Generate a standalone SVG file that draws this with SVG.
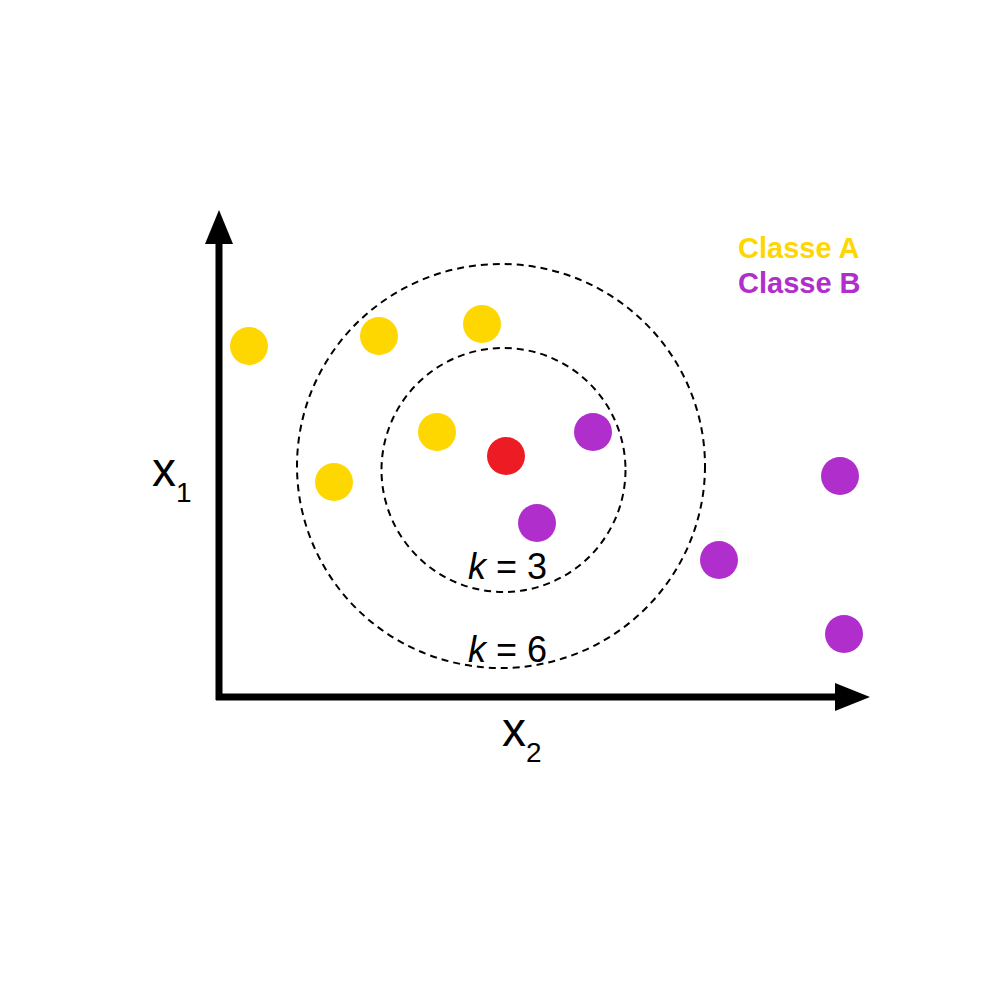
<svg xmlns="http://www.w3.org/2000/svg" width="1000" height="1000" viewBox="0 0 1000 1000">
<style>
.a{fill:#FFD700}.b{fill:#B02ECC}.q{fill:#ED1C24}
.ring{fill:none;stroke:#000;stroke-width:2;stroke-dasharray:7 5}
.t{font-family:"Liberation Sans",Arial,sans-serif;fill:#000}
.leg{font-family:"Liberation Sans",Arial,sans-serif;font-weight:bold;font-size:29px}
</style>
<rect width="1000" height="1000" fill="#fff"/>
<g id="axes">
<line x1="219" y1="700" x2="219" y2="240" stroke="#000" stroke-width="7"/>
<polygon points="205,244 233,244 219,210" fill="#000"/>
<line x1="216" y1="697" x2="840" y2="697" stroke="#000" stroke-width="7"/>
<polygon points="835,683 835,711 870,697" fill="#000"/>
<text class="t" x="152" y="486" font-size="48">x<tspan font-size="28" dy="16">1</tspan></text>
<text class="t" x="502" y="746" font-size="48">x<tspan font-size="28" dy="16">2</tspan></text>
</g>
<g id="rings">
<ellipse class="ring" cx="501" cy="466" rx="204" ry="202"/>
<circle class="ring" cx="503.5" cy="470" r="122"/>
<text class="t" x="468" y="579" font-size="36"><tspan font-style="italic">k</tspan> = 3</text>
<text class="t" x="468" y="662" font-size="36"><tspan font-style="italic">k</tspan> = 6</text>
</g>
<g id="classA">
<circle class="a" cx="249" cy="346" r="19"/>
<circle class="a" cx="379" cy="336" r="19"/>
<circle class="a" cx="482" cy="324" r="19"/>
<circle class="a" cx="437" cy="432" r="19"/>
<circle class="a" cx="334" cy="482" r="19"/>
</g>
<g id="query"><circle class="q" cx="506" cy="456" r="19"/></g>
<g id="classB">
<circle class="b" cx="593" cy="432" r="19"/>
<circle class="b" cx="537" cy="523" r="19"/>
<circle class="b" cx="719" cy="560" r="19"/>
<circle class="b" cx="840" cy="476" r="19"/>
<circle class="b" cx="844" cy="634" r="19"/>
</g>
<g id="legend">
<text class="leg a" x="738" y="258">Classe A</text>
<text class="leg b" x="738" y="293">Classe B</text>
</g>
</svg>
